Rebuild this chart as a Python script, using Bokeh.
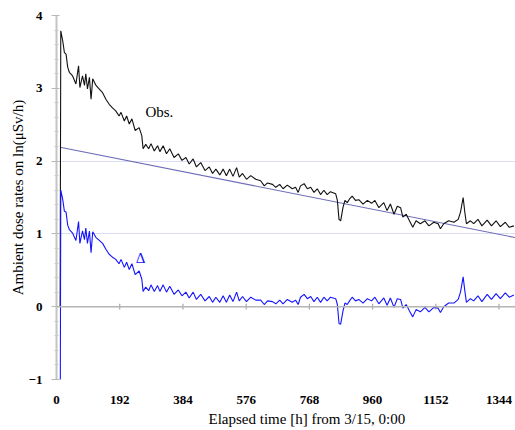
from bokeh.plotting import figure
from bokeh.models import Range1d, FixedTicker, Title, Label, Span
from bokeh.embed import file_html
from bokeh.resources import INLINE

# ---- data ----
hours = [11, 13, 19, 24, 29, 34, 39, 49, 59, 67, 71, 79, 85, 89, 94, 100, 105, 110,
         120, 130, 140, 150, 160, 170, 180, 190, 196, 206, 213, 221, 229, 239, 251,
         259, 263, 271, 280, 287, 297, 307, 314, 324, 334, 344, 357, 370, 381, 393,
         403, 415, 425, 438, 451, 464, 474, 484, 496, 506, 516, 526, 536, 547, 555,
         565, 577, 590, 605, 620, 631, 641, 656, 666, 678, 688, 701, 716, 726, 734,
         741, 752, 762, 772, 782, 792, 802, 812, 822, 832, 848, 853, 858, 863, 870,
         876, 883, 890, 898, 908, 918, 931, 944, 957, 967, 979, 994, 1004, 1014, 1025,
         1035, 1045, 1052, 1062, 1072, 1082, 1092, 1105, 1119, 1131, 1146, 1159, 1166,
         1176, 1191, 1207, 1220, 1227, 1235, 1240, 1245, 1257, 1267, 1280, 1292, 1308,
         1321, 1335, 1348, 1363, 1375, 1389]

obs = [0.00, 3.79, 3.65, 3.49, 3.47, 3.29, 3.22, 3.17, 3.06, 3.31, 3.01, 3.17, 3.04, 3.20,
       2.99, 3.15, 2.85, 3.13, 3.04, 2.99, 2.94, 2.85, 2.78, 2.73, 2.69, 2.62, 2.67, 2.55,
       2.62, 2.51, 2.58, 2.42, 2.46, 2.35, 2.17, 2.23, 2.17, 2.24, 2.14, 2.21, 2.13, 2.21,
       2.10, 2.17, 2.05, 2.10, 2.01, 2.05, 1.96, 2.03, 1.92, 1.98, 1.87, 1.92, 1.83, 1.89,
       1.81, 1.89, 1.80, 1.89, 1.79, 1.91, 1.78, 1.83, 1.75, 1.80, 1.75, 1.73, 1.66, 1.70,
       1.68, 1.64, 1.68, 1.62, 1.67, 1.62, 1.64, 1.57, 1.66, 1.69, 1.62, 1.64, 1.57, 1.62,
       1.54, 1.60, 1.54, 1.58, 1.55, 1.46, 1.20, 1.18, 1.36, 1.46, 1.43, 1.48, 1.52, 1.46,
       1.47, 1.41, 1.46, 1.42, 1.46, 1.36, 1.43, 1.32, 1.41, 1.27, 1.38, 1.36, 1.23, 1.27,
       1.18, 1.09, 1.18, 1.14, 1.18, 1.11, 1.16, 1.14, 1.07, 1.14, 1.18, 1.16, 1.20, 1.30,
       1.50, 1.30, 1.14, 1.18, 1.14, 1.20, 1.11, 1.19, 1.11, 1.18, 1.10, 1.16, 1.09, 1.11]

delta = [-2.19, 1.60, 1.47, 1.31, 1.30, 1.12, 1.06, 1.01, 0.91, 1.17, 0.87, 1.04, 0.92, 1.08,
         0.87, 1.04, 0.74, 1.03, 0.95, 0.91, 0.87, 0.79, 0.72, 0.68, 0.65, 0.59, 0.65, 0.54,
         0.61, 0.51, 0.59, 0.44, 0.49, 0.38, 0.21, 0.27, 0.22, 0.30, 0.21, 0.29, 0.21, 0.30,
         0.20, 0.28, 0.17, 0.23, 0.15, 0.20, 0.12, 0.20, 0.10, 0.17, 0.08, 0.14, 0.06, 0.13,
         0.06, 0.15, 0.06, 0.16, 0.07, 0.20, 0.08, 0.14, 0.07, 0.13, 0.09, 0.09, 0.03, 0.08,
         0.07, 0.04, 0.09, 0.04, 0.10, 0.06, 0.09, 0.03, 0.13, 0.17, 0.11, 0.14, 0.07, 0.13,
         0.06, 0.13, 0.08, 0.13, 0.11, 0.03, -0.23, -0.24, -0.06, 0.05, 0.03, 0.08, 0.13, 0.08,
         0.10, 0.05, 0.11, 0.08, 0.13, 0.04, 0.12, 0.02, 0.12, -0.01, 0.11, 0.10, -0.02, 0.03,
         -0.06, -0.14, -0.04, -0.07, -0.01, -0.07, -0.01, -0.02, -0.08, 0.00, 0.05, 0.05, 0.10, 0.20,
         0.41, 0.22, 0.06, 0.11, 0.08, 0.15, 0.07, 0.17, 0.10, 0.18, 0.11, 0.19, 0.13, 0.16]

fit_hours = [11, 1393]
fit_values = [2.19, 0.95]

x_ticks = [0, 192, 384, 576, 768, 960, 1152, 1344]
y_ticks = [-1, 0, 1, 2, 3, 4]
y_minor = [-0.8, -0.6, -0.4, -0.2, 0.2, 0.4, 0.6, 0.8, 1.2, 1.4, 1.6, 1.8,
           2.2, 2.4, 2.6, 2.8, 3.2, 3.4, 3.6, 3.8]
grid_levels = [1, 2]

SERIF = "Liberation Serif"

p = figure(width=515, height=430, output_backend="svg", toolbar_location=None,
           x_range=Range1d(0, 1394), y_range=Range1d(-1, 4),
           min_border_left=56, min_border_top=15, min_border_right=0,
           min_border_bottom=51)
p.outline_line_color = None
p.background_fill_color = "white"
p.border_fill_color = "white"

# grid
p.xgrid.visible = False
p.ygrid.ticker = FixedTicker(ticks=grid_levels)
p.ygrid.grid_line_color = "#dcdcf6"
p.ygrid.grid_line_width = 1

# y axis
yax = p.yaxis[0]
yax.ticker = FixedTicker(ticks=y_ticks, minor_ticks=y_minor)
yax.axis_line_color = "#c4c4c4"
yax.axis_line_width = 2
yax.major_tick_line_color = "#b8b8b8"
yax.major_tick_out = 5
yax.major_tick_in = 3
yax.minor_tick_line_color = "#c8c8c8"
yax.minor_tick_out = 2
yax.minor_tick_in = 2
yax.major_label_standoff = 9
yax.major_label_text_font = SERIF
yax.major_label_text_font_style = "bold"
yax.major_label_text_font_size = "13px"
yax.major_label_text_color = "black"
yax.axis_label = "Ambient dose rates on ln(\u03bcSv/h)"
yax.axis_label_text_font = SERIF
yax.axis_label_text_font_style = "normal"
yax.axis_label_text_font_size = "15px"
yax.axis_label_text_color = "black"
yax.axis_label_standoff = 0

# x axis: labels only at bottom
xax = p.xaxis[0]
xax.ticker = FixedTicker(ticks=x_ticks)
xax.axis_line_color = None
xax.major_tick_line_color = None
xax.minor_tick_line_color = None
xax.major_label_standoff = 10
xax.major_label_text_font = SERIF
xax.major_label_text_font_style = "bold"
xax.major_label_text_font_size = "13px"
xax.major_label_text_color = "black"

p.add_layout(Title(text="Elapsed time [h] from 3/15, 0:00", align="left", offset=152,
                   text_font=SERIF, text_font_style="normal", text_font_size="15px",
                   text_color="black", standoff=5), "below")

# zero line with tick marks
p.add_layout(Span(location=0, dimension="width", line_color="#b4b4b4", line_width=1.5))
p.segment(x0=x_ticks, y0=[-0.04] * len(x_ticks), x1=x_ticks, y1=[0.04] * len(x_ticks),
          line_color="#a8a8a8", line_width=1.2)

# series
p.line(fit_hours, fit_values, line_color="#6c6cb8", line_width=1.1)
p.line(hours, obs, line_color="#111111", line_width=1.1)
p.line(hours, delta, line_color="#1414ff", line_width=1.1)

p.add_layout(Label(x=270, y=2.68, text="Obs.", text_font=SERIF, text_font_size="15px",
                   text_color="black", text_baseline="middle", text_align="left"))
p.add_layout(Label(x=255, y=0.67, text="\u0394", text_font=SERIF, text_font_size="15px",
                   text_color="#1414ff", text_baseline="middle", text_align="center"))

open("out.html", "w").write(file_html(p, INLINE))
